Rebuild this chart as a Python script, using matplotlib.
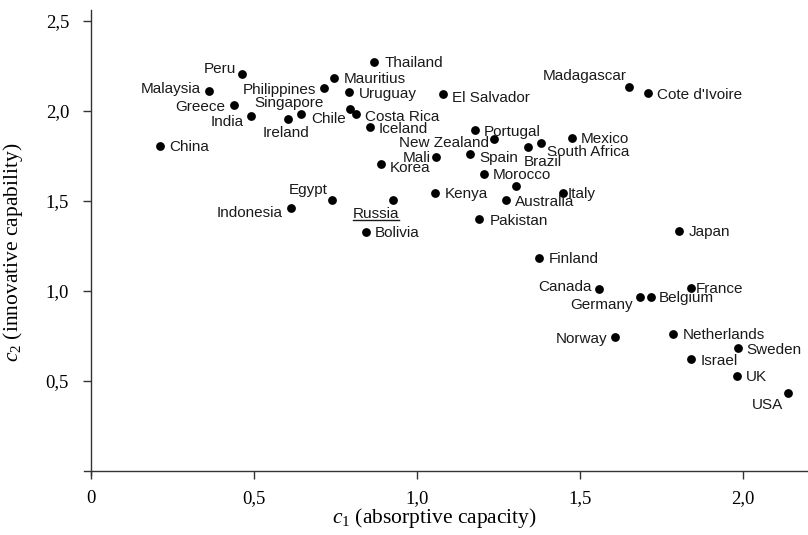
import matplotlib
matplotlib.use("Agg")
import matplotlib.pyplot as plt
from matplotlib.lines import Line2D
from matplotlib.ticker import FuncFormatter

plt.rcParams['mathtext.fontset'] = 'custom'
plt.rcParams['mathtext.rm'] = 'Liberation Serif'
plt.rcParams['mathtext.it'] = 'Liberation Serif:italic'

countries = ["China", "Malaysia", "Peru", "Greece", "India", "Ireland", "Singapore",
             "Chile", "Philippines", "Mauritius", "Uruguay", "Costa Rica", "Iceland",
             "Thailand", "Korea", "Egypt", "Indonesia", "Russia", "Bolivia",
             "El Salvador", "Madagascar", "Cote d'Ivoire", "Portugal", "New Zealand",
             "Mali", "Spain", "Brazil", "South Africa", "Mexico", "Morocco", "Kenya",
             "", "Australia", "Italy", "Pakistan", "Japan", "Finland", "Canada",
             "Germany", "Belgium", "France", "Norway", "Netherlands", "Sweden",
             "Israel", "UK", "USA"]
c1 = [0.212, 0.363, 0.463, 0.440, 0.491, 0.604, 0.643,
      0.794, 0.716, 0.746, 0.791, 0.812, 0.856,
      0.869, 0.890, 0.739, 0.613, 0.928, 0.843,
      1.081, 1.650, 1.710, 1.177, 1.237,
      1.059, 1.164, 1.340, 1.380, 1.475, 1.206, 1.056,
      1.305, 1.274, 1.449, 1.192, 1.804, 1.374, 1.559,
      1.685, 1.719, 1.840, 1.609, 1.786, 1.984,
      1.842, 1.982, 2.140]
c2 = [1.806, 2.111, 2.207, 2.032, 1.970, 1.954, 1.983,
      2.009, 2.126, 2.185, 2.104, 1.983, 1.909,
      2.272, 1.704, 1.504, 1.461, 1.504, 1.330,
      2.094, 2.135, 2.098, 1.891, 1.841,
      1.746, 1.759, 1.802, 1.820, 1.852, 1.652, 1.546,
      1.580, 1.504, 1.546, 1.398, 1.333, 1.183, 1.011,
      0.967, 0.967, 1.019, 0.743, 0.763, 0.683,
      0.622, 0.528, 0.435]

# label placement: (dx, dy, ha) in pixels from the dot
offsets = {
    "China": (9, 0, 'left'), "Malaysia": (-8, 3, 'right'), "Peru": (-6, 6, 'right'),
    "Greece": (-9, 0, 'right'), "India": (-7, -4, 'right'), "Ireland": (-2, -12, 'center'),
    "Singapore": (-12, 12, 'center'), "Chile": (-4, -8, 'right'),
    "Philippines": (-8, 0, 'right'), "Mauritius": (10, 0, 'left'), "Uruguay": (10, 0, 'left'),
    "Costa Rica": (9, -2, 'left'), "Iceland": (9, 0, 'left'), "Thailand": (10, 0, 'left'),
    "Korea": (9, -2, 'left'), "Egypt": (-4, 12, 'right'), "Indonesia": (-8, -4, 'right'),
    "Russia": (6, -12.5, 'right'), "Bolivia": (9, 0, 'left'), "El Salvador": (9, -3, 'left'),
    "Madagascar": (-2, 12, 'right'), "Cote d'Ivoire": (9, 0, 'left'),
    "Portugal": (9, 0, 'left'), "New Zealand": (-5, -2, 'right'), "Mali": (-5, 0, 'right'),
    "Spain": (9, -2, 'left'), "Brazil": (-4, -14, 'left'), "South Africa": (6, -7, 'left'),
    "Mexico": (9, 0, 'left'), "Morocco": (9, 0, 'left'), "Kenya": (10, 0, 'left'),
    "Australia": (9, 0, 'left'), "Italy": (4, 0, 'left'), "Pakistan": (10, 0, 'left'),
    "Japan": (10, 0, 'left'), "Finland": (10, 0, 'left'), "Canada": (-7, 3, 'right'),
    "Germany": (-7, -7, 'right'), "Belgium": (8, 0, 'left'), "France": (5, 0, 'left'),
    "Norway": (-8, 0, 'right'), "Netherlands": (10, 0, 'left'), "Sweden": (9, 0, 'left'),
    "Israel": (9, 0, 'left'), "UK": (9, 0, 'left'), "USA": (-5, -11, 'right'),
}

xticks = [0, 0.5, 1.0, 1.5, 2.0]
yticks = [0.5, 1.0, 1.5, 2.0, 2.5]

W, H = 808, 535
fig = plt.figure(figsize=(W / 100, H / 100), dpi=100)
ax = fig.add_axes([84 / W, (H - 475) / H, (W - 84) / W, 465 / H])
ax.set_xlim(-0.0215, 2.2)
ax.set_ylim(-0.022, 2.56)

ax.scatter(c1, c2, s=40, color='black', zorder=3, linewidths=0)

label_font = dict(family='Liberation Sans', size=11, color='#1a1a1a')
texts = {}
for name, x, y in zip(countries, c1, c2):
    if not name:
        continue
    dx, dy, ha = offsets[name]
    t = ax.annotate(name, (x, y), xytext=(dx, dy - 1.5), textcoords='offset pixels',
                    ha=ha, va='center', **label_font)
    texts[name] = t

for side in ['top', 'right']:
    ax.spines[side].set_visible(False)
for side in ['left', 'bottom']:
    ax.spines[side].set_position(('data', 0))
    ax.spines[side].set_color('#333333')
    ax.spines[side].set_linewidth(1.0)

ax.set_xticks(xticks)
ax.set_yticks(yticks)
fmt = FuncFormatter(lambda v, p: "0" if v == 0 else f"{v:.1f}".replace('.', ','))
ax.xaxis.set_major_formatter(fmt)
ax.yaxis.set_major_formatter(fmt)
ax.tick_params(axis='both', direction='out', length=5.8, width=1.0, color='#333333',
               labelsize=13.5)
ax.tick_params(axis='y', pad=10)
ax.tick_params(axis='x', pad=8)
for lab in ax.get_xticklabels() + ax.get_yticklabels():
    lab.set_family('Liberation Serif')

fig.text(434 / W, 1 - 518 / H, r'$c_1$ (absorptive capacity)', family='Liberation Serif',
         size=15.5, ha='center', va='center')
fig.text(13 / W, 1 - 252 / H, r'$c_2$ (innovative capability)', family='Liberation Serif',
         size=15.5, ha='center', va='center', rotation=90)

# underline Russia
fig.canvas.draw()
bb = texts["Russia"].get_window_extent()
uy = bb.y0 + 1
fig.add_artist(Line2D([bb.x0 / W, bb.x1 / W], [uy / H, uy / H], transform=fig.transFigure,
                      color='#1a1a1a', linewidth=1.0))

fig.savefig("out.png", dpi=100)
